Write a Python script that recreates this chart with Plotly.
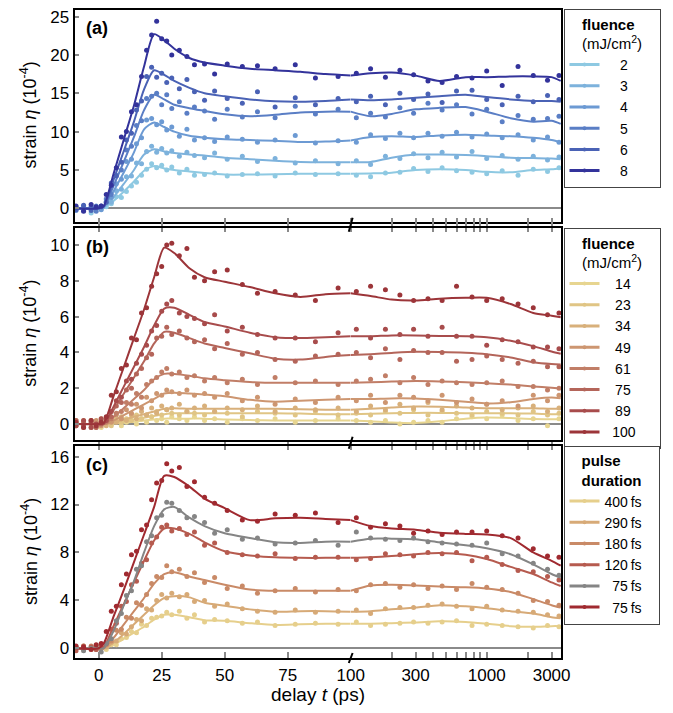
import plotly.graph_objects as go

FONT = "Liberation Sans, Arial, Helvetica, sans-serif"

# ---------------- data ----------------
# delay nodes of the smooth fit curves (ps)
T_FIT = [-10, 0, 2, 6, 10, 14, 18, 22, 26, 30, 36, 42, 50, 60, 70, 80, 90, 100,
         140, 200, 300, 450, 700, 1000, 1500, 2200, 3000, 3500]
# delays of the measured points (ps)
T_PTS = [-9, -6, -3, -1, 1, 3, 5, 7, 9, 11, 13, 15, 17, 19, 21, 23, 25, 27, 29, 32,
         35, 38, 42, 46, 51, 57, 63, 70, 78, 86, 95,
         110, 140, 180, 230, 290, 370, 470, 600, 780, 1000, 1300, 1700, 2200, 2800, 3400]

# ---- panel (a): fluence (mJ/cm^2) ----
a_labels = ["2", "3", "4", "5", "6", "8"]
a_colors = ["#8ec9e2", "#7db2dc", "#6c9ad3", "#5a7ec5", "#4a62b5", "#33339b"]
a_fit = [
    [0, 0, 0.1, 1.0, 2.2, 3.5, 4.9, 5.5, 5.2, 5.0, 4.8, 4.6, 4.4, 4.4, 4.45, 4.5, 4.5, 4.5,
     4.55, 4.65, 5.0, 5.1, 5.0, 4.75, 4.7, 5.0, 5.1, 5.2],
    [0, 0, 0.1, 1.5, 3.2, 5.0, 7.0, 7.7, 7.4, 7.2, 7.0, 6.9, 6.6, 6.4, 6.2, 6.05, 6.0, 6.0,
     6.05, 6.6, 7.0, 7.0, 6.95, 6.8, 6.6, 6.55, 6.5, 6.4],
    [0, 0, 0.2, 2.3, 4.7, 7.3, 10.3, 11.2, 10.6, 10.0, 9.45, 9.2, 9.0, 8.9, 8.8, 8.65, 8.7, 8.85,
     9.3, 9.4, 9.3, 9.5, 9.6, 9.5, 9.4, 9.2, 8.9, 8.6],
    [0, 0, 0.2, 3.0, 6.1, 9.3, 12.8, 14.8, 14.2, 13.5, 13.05, 12.7, 12.25, 12.0, 12.2, 12.5, 12.6, 12.6,
     12.0, 12.3, 12.9, 13.1, 13.2, 12.6, 11.75, 11.3, 11.4, 11.0],
    [0, 0, 0.2, 3.8, 7.5, 11.3, 15.5, 18.0, 17.4, 16.6, 15.7, 15.0, 14.6, 14.2, 13.95, 13.9, 14.0, 14.2,
     14.1, 14.2, 14.4, 14.6, 14.8, 14.5, 14.2, 14.0, 14.0, 13.9],
    [0, 0, 0.3, 4.6, 9.0, 13.4, 18.5, 22.7, 21.9, 20.8, 19.6, 19.0, 18.6, 18.2, 18.0, 17.8, 17.5, 17.3,
     17.6, 17.7, 17.3, 16.6, 17.1, 17.1, 17.2, 17.2, 17.1, 16.6],
]
a_pts = [
    [-0.2, 0.3, -0.6, 0.2, -0.1, 0.2, 0.6, 1.5, 1.4, 2.2, 2.9, 3.4, 4.3, 5.1, 5.8, 5.3, 5.6, 5.0, 5.4, 4.6,
     5.1, 4.3, 4.4, 4.6, 4.2, 4.4, 4.5, 4.2, 4.6, 4.4, 4.5,
     4.3, 4.1, 4.6, 4.7, 5.2, 4.8, 5.3, 4.9, 4.7, 4.5, 4.9, 4.3, 5.1, 4.8, 5.3],
    [0.2, -0.2, 0.1, 0.0, 0.1, 0.7, 0.8, 2.3, 2.5, 4.1, 4.2, 5.9, 5.8, 7.4, 8.1, 7.3, 7.8, 7.2, 7.5, 6.8,
     7.3, 6.9, 6.6, 7.2, 6.4, 6.8, 6.1, 6.5, 5.9, 6.2, 5.8,
     6.2, 5.7, 6.8, 6.5, 7.1, 6.6, 7.3, 6.7, 7.4, 6.5, 6.9, 6.4, 6.8, 6.3, 6.7],
    [-0.3, 0.2, 0.0, 0.3, -0.2, 0.9, 1.4, 3.2, 3.8, 6.1, 6.4, 8.4, 9.2, 11.5, 11.7, 10.9, 11.3, 10.2, 10.6, 9.4,
     10.3, 8.9, 9.2, 8.7, 9.3, 9.0, 8.6, 8.9, 9.5, 8.5, 8.8,
     8.6, 9.6, 9.1, 9.8, 9.2, 9.8, 9.4, 9.9, 9.3, 9.7, 9.2, 9.6, 8.9, 9.3, 8.6],
    [0.1, -0.3, 0.2, -0.4, 0.3, 1.2, 1.8, 4.3, 5.0, 7.6, 8.1, 10.8, 11.4, 14.3, 14.6, 15.0, 13.5, 14.8, 13.0, 13.9,
     12.4, 13.2, 12.7, 11.6, 12.9, 11.9, 12.6, 11.8, 13.3, 12.3, 12.9,
     11.8, 12.4, 11.9, 13.1, 12.4, 13.7, 12.8, 13.5, 12.3, 12.9, 11.3, 12.1, 11.6, 11.7, 12.0],
    [-0.2, 0.4, -0.3, 0.1, 0.2, 0.8, 3.3, 4.2, 6.0, 8.9, 9.8, 12.8, 14.0, 17.2, 18.4, 17.1, 17.6, 16.4, 17.0, 15.6,
     16.8, 15.2, 14.1, 15.3, 14.3, 13.7, 15.2, 13.2, 14.4, 13.5, 14.3,
     13.9, 14.6, 13.5, 15.0, 14.2, 14.9, 13.8, 15.3, 15.4, 14.2, 13.5, 14.6, 13.9, 14.7, 14.2],
    [0.3, -0.4, 0.5, 0.2, 0.3, 1.8, 3.0, 5.3, 9.3, 10.0, 12.6, 13.5, 17.2, 20.6, 22.6, 24.4, 22.1, 21.8, 20.0, 20.6,
     19.8, 18.7, 18.8, 17.5, 18.8, 18.5, 18.6, 18.2, 18.7, 17.0, 17.2,
     17.6, 18.2, 17.1, 18.0, 17.4, 16.6, 16.4, 17.2, 17.0, 17.9, 16.0, 18.5, 17.3, 16.7, 17.3],
]

# ---- panel (b): fluence (mJ/cm^2) ----
b_labels = ["14", "23", "34", "49", "61", "75", "89", "100"]
b_colors = ["#e7d590", "#e0c585", "#d8b07b", "#cd9671", "#c17e67", "#b4655a", "#a84c4c", "#9c3539"]
b_fit = [
    [0, 0, 0, 0.03, 0.08, 0.12, 0.2, 0.25, 0.3, 0.3, 0.3, 0.3, 0.25, 0.22, 0.2, 0.2, 0.2, 0.2,
     0.15, 0.08, 0.05, 0.15, 0.3, 0.36, 0.33, 0.28, 0.27, 0.27],
    [0, 0, 0, 0.05, 0.15, 0.25, 0.35, 0.45, 0.55, 0.6, 0.6, 0.6, 0.6, 0.6, 0.6, 0.58, 0.55, 0.55,
     0.57, 0.6, 0.62, 0.62, 0.6, 0.6, 0.6, 0.58, 0.55, 0.55],
    [0, 0, 0, 0.1, 0.25, 0.4, 0.55, 0.7, 0.85, 0.88, 0.85, 0.85, 0.85, 0.85, 0.85, 0.82, 0.8, 0.8,
     0.85, 0.92, 0.98, 0.97, 0.92, 0.88, 0.88, 0.88, 0.85, 0.85],
    [0, 0, 0, 0.2, 0.5, 0.8, 1.1, 1.4, 1.7, 1.75, 1.7, 1.65, 1.55, 1.35, 1.25, 1.3, 1.35, 1.4,
     1.4, 1.43, 1.42, 1.35, 1.25, 1.15, 1.22, 1.4, 1.48, 1.44],
    [0, 0, 0, 0.4, 0.9, 1.4, 1.9, 2.5, 2.8, 2.8, 2.7, 2.55, 2.45, 2.35, 2.3, 2.3, 2.3, 2.3,
     2.33, 2.37, 2.4, 2.38, 2.33, 2.27, 2.2, 2.1, 2.03, 1.99],
    [0, 0, 0, 0.8, 1.7, 2.6, 3.5, 4.5, 5.15, 5.1, 4.8, 4.5, 4.25, 3.95, 3.65, 3.6, 3.75, 3.85,
     3.9, 3.97, 4.03, 4.02, 3.98, 3.9, 3.72, 3.45, 3.35, 3.33],
    [0, 0, 0, 1.0, 2.1, 3.2, 4.3, 5.5, 6.45, 6.5, 6.1, 5.7, 5.45, 5.1, 4.85, 4.8, 4.85, 4.9,
     4.9, 4.95, 4.95, 4.92, 4.9, 4.85, 4.65, 4.35, 4.05, 3.92],
    [0, 0, 0.05, 1.6, 3.2, 4.8, 6.4, 8.2, 9.85, 9.55, 8.7, 8.2, 7.95, 7.65, 7.3, 7.1, 7.25, 7.3,
     7.15, 6.95, 6.9, 7.0, 7.05, 7.05, 6.7, 6.2, 6.05, 5.97],
]
b_pts = [
    [0.1, -0.1, 0.2, 0.0, -0.2, 0.1, 0.0, 0.2, -0.1, 0.1, 0.2, 0.0, 0.3, 0.1, 0.4, 0.2, 0.3, 0.1, 0.4, 0.3,
     0.2, 0.4, 0.2, 0.3, 0.1, 0.3, 0.2, 0.3, 0.1, 0.2, 0.3,
     0.2, 0.1, 0.2, 0.0, 0.1, 0.2, 0.1, 0.3, 0.4, 0.3, 0.5, 0.2, 0.3, -0.1, 0.3],
    [-0.1, 0.2, 0.0, -0.2, 0.1, 0.2, -0.1, 0.3, 0.1, 0.3, 0.2, 0.5, 0.3, 0.5, 0.4, 0.7, 0.5, 0.8, 0.6, 0.5,
     0.7, 0.6, 0.5, 0.7, 0.6, 0.4, 0.7, 0.6, 0.5, 0.7, 0.5,
     0.6, 0.5, 0.7, 0.6, 0.8, 0.5, 0.7, 0.6, 0.5, 0.7, 0.6, 0.5, 0.7, 0.5, 0.6],
    [0.2, 0.0, -0.2, 0.1, 0.3, -0.1, 0.2, 0.1, 0.4, 0.2, 0.5, 0.3, 0.7, 0.5, 0.9, 0.6, 1.0, 0.8, 0.9, 1.1,
     0.7, 0.9, 1.0, 0.7, 0.9, 0.8, 1.0, 0.7, 0.9, 0.8, 0.9,
     0.7, 1.0, 0.8, 1.1, 0.9, 1.2, 0.8, 1.0, 0.9, 1.1, 0.8, 0.9, 1.0, 0.7, 0.9],
    [0.1, -0.2, 0.0, 0.2, -0.1, 0.2, 0.1, 0.5, 0.3, 0.8, 0.6, 1.1, 0.9, 1.5, 1.3, 1.7, 1.6, 1.9, 1.8, 1.7,
     1.9, 1.6, 1.7, 1.5, 1.7, 1.3, 1.5, 1.1, 1.4, 1.2, 1.5,
     1.3, 1.6, 1.2, 1.6, 1.5, 1.3, 1.6, 1.2, 1.4, 1.1, 1.3, 1.0, 1.6, 1.3, 1.6],
    [-0.1, 0.1, 0.2, -0.1, 0.1, 0.1, 0.3, 0.6, 0.7, 1.2, 1.1, 1.7, 1.5, 2.2, 2.4, 2.6, 2.9, 3.1, 2.8, 2.9,
     2.6, 2.7, 2.4, 2.6, 2.3, 2.5, 2.2, 2.6, 2.3, 2.4, 2.2,
     2.4, 2.5, 2.7, 2.3, 2.6, 2.2, 2.4, 2.3, 2.2, 2.3, 2.4, 2.1, 2.1, 1.9, 2.0],
    [0.2, -0.1, 0.1, -0.2, 0.0, 0.3, 0.4, 1.0, 1.2, 1.9, 2.0, 2.8, 3.1, 3.7, 3.9, 4.8, 4.9, 5.4, 5.0, 5.2,
     4.8, 4.6, 4.7, 4.2, 4.5, 3.9, 4.0, 3.6, 3.5, 3.8, 3.9,
     4.0, 3.7, 4.2, 3.6, 4.1, 4.0, 4.0, 3.5, 3.6, 3.8, 3.6, 3.4, 3.5, 3.2, 3.2],
    [-0.1, 0.2, -0.2, 0.0, 0.3, 0.2, 0.7, 1.3, 1.5, 2.4, 2.5, 3.4, 3.9, 4.4, 5.2, 5.5, 6.3, 6.7, 6.9, 6.2,
     6.0, 5.9, 5.6, 6.1, 5.2, 5.4, 5.0, 4.8, 4.8, 4.6, 5.1,
     5.3, 4.8, 5.3, 5.0, 5.3, 4.9, 5.4, 4.9, 4.9, 4.4, 4.7, 4.6, 4.3, 4.3, 4.2],
    [0.1, -0.2, 0.2, -0.1, 0.1, 0.4, 1.6, 1.8, 3.1, 3.3, 4.8, 4.7, 6.2, 6.5, 7.7, 8.4, 8.8, 10.0, 10.1, 9.4,
     9.8, 8.2, 8.0, 8.5, 8.6, 7.8, 7.3, 7.4, 7.2, 6.9, 7.6,
     7.4, 7.7, 7.5, 7.2, 6.9, 7.0, 6.9, 7.7, 7.1, 6.9, 7.0, 6.7, 6.5, 6.1, 6.2],
]

# ---- panel (c): pulse duration ----
c_labels = ["400\u2009fs", "290\u2009fs", "180\u2009fs", "120\u2009fs", "\u200775\u2009fs", "\u200775\u2009fs"]
c_colors = ["#e6cf8c", "#d7aa77", "#c98a67", "#b65b4f", "#858585", "#a02a30"]
c_fit = [
    [0, 0, 0, 0.3, 0.8, 1.3, 1.8, 2.4, 2.8, 2.8, 2.6, 2.35, 2.3, 2.1, 1.95, 2.0, 2.05, 2.05,
     2.05, 2.1, 2.15, 2.25, 2.2, 2.05, 1.85, 1.8, 1.85, 1.85],
    [0, 0, 0, 0.5, 1.2, 2.0, 2.8, 3.6, 4.2, 4.35, 4.25, 3.8, 3.55, 3.25, 3.05, 3.1, 3.1, 3.05,
     3.1, 3.25, 3.4, 3.6, 3.5, 3.35, 3.1, 2.9, 2.6, 2.5],
    [0, 0, 0, 0.9, 2.0, 3.1, 4.2, 5.4, 6.2, 6.35, 6.0, 5.7, 5.3, 4.9, 4.8, 4.8, 4.8, 4.8,
     5.25, 5.3, 5.25, 5.15, 5.1, 5.0, 4.7, 4.1, 3.6, 3.4],
    [0, 0, 0.1, 1.9, 3.7, 5.5, 7.3, 9.0, 10.0, 10.0, 9.55, 8.85, 8.1, 7.75, 7.6, 7.55, 7.55, 7.55,
     7.6, 7.7, 7.85, 7.95, 7.8, 7.45, 6.8, 6.2, 5.5, 5.2],
    [0, 0, 0, 1.5, 3.6, 5.6, 8.0, 10.2, 11.6, 11.8, 10.9, 10.2, 9.6, 9.2, 8.85, 8.8, 8.9, 8.9,
     9.15, 9.15, 9.1, 8.85, 8.6, 8.35, 7.85, 7.0, 6.2, 5.9],
    [0, 0, 0.4, 2.7, 4.9, 7.2, 9.5, 11.8, 14.4, 14.3, 13.5, 12.5, 11.7, 10.7, 10.85, 10.9, 10.8, 10.7,
     10.2, 10.0, 9.9, 9.65, 9.55, 9.5, 9.2, 8.0, 7.3, 6.9],
]
c_pts = [
    [0.0, 0.2, -0.1, 0.1, 0.0, -0.1, 0.3, 0.3, 0.8, 0.9, 1.4, 1.3, 2.0, 1.9, 2.5, 2.6, 2.7, 3.0, 2.8, 3.1,
     2.5, 2.8, 2.2, 2.4, 2.3, 2.1, 2.2, 1.9, 2.0, 2.1, 2.0,
     2.2, 1.9, 2.0, 2.1, 2.2, 2.1, 2.2, 2.3, 1.9, 2.0, 1.9, 1.8, 1.7, 1.9, 1.8],
    [0.1, -0.1, 0.0, 0.2, 0.0, 0.1, 0.5, 0.6, 1.3, 1.2, 1.8, 2.4, 2.3, 3.3, 3.2, 4.0, 4.5, 4.2, 4.6, 4.3,
     4.5, 3.9, 4.0, 3.5, 3.7, 3.3, 3.1, 3.0, 3.2, 3.0, 3.1,
     3.2, 2.9, 3.3, 3.4, 3.4, 3.6, 3.7, 3.5, 3.3, 3.5, 3.2, 3.1, 3.0, 2.8, 2.7],
    [0.1, 0.0, 0.2, -0.1, 0.0, 0.3, 0.6, 1.5, 1.6, 2.6, 2.5, 3.8, 3.6, 4.5, 5.4, 6.0, 5.9, 6.9, 6.4, 6.6,
     6.0, 6.3, 5.5, 5.9, 5.0, 5.2, 4.6, 4.8, 5.0, 4.7, 4.9,
     4.8, 5.3, 5.4, 5.1, 5.3, 5.0, 5.2, 4.9, 5.4, 5.1, 4.9, 4.6, 4.0, 3.9, 3.6],
    [-0.2, 0.2, 0.1, -0.1, 0.3, 0.4, 1.6, 2.1, 3.5, 3.9, 5.3, 5.6, 7.1, 7.4, 8.8, 9.3, 10.1, 10.3, 9.8, 10.0,
     9.5, 9.7, 8.6, 8.8, 8.0, 7.8, 7.7, 7.9, 7.5, 7.6, 7.6,
     7.4, 7.5, 7.9, 7.8, 7.7, 8.0, 7.9, 8.0, 7.3, 7.6, 7.0, 6.5, 6.4, 6.0, 5.7],
    [0.1, -0.2, 0.0, 0.2, -0.3, 0.4, 0.8, 2.3, 2.9, 4.4, 4.8, 6.6, 6.9, 8.9, 9.4, 10.9, 11.1, 12.2, 12.1, 11.5,
     10.9, 11.0, 10.5, 9.6, 9.9, 9.1, 9.2, 8.7, 8.8, 9.0, 8.6,
     9.7, 9.2, 9.1, 9.0, 9.2, 8.9, 8.8, 8.7, 8.6, 8.8, 7.9, 7.7, 7.1, 6.6, 6.1],
    [0.2, 0.1, -0.1, 0.3, 0.4, 1.4, 3.1, 3.5, 5.3, 6.2, 7.8, 8.1, 9.9, 10.3, 12.4, 13.8, 14.0, 15.4, 14.8, 15.1,
     13.5, 13.9, 12.6, 12.1, 11.5, 10.7, 10.6, 11.2, 11.1, 11.3, 10.5,
     10.9, 10.1, 10.4, 10.2, 9.6, 9.8, 9.5, 9.7, 9.7, 9.8, 9.4, 9.2, 8.3, 7.7, 7.6],
]

# axis ticks
Y_TICKS = [[0, 5, 10, 15, 20, 25], [0, 2, 4, 6, 8, 10], [0, 4, 8, 12, 16]]
LIN_TICKS = [0, 25, 50, 75, 100]
LOG_TICKS = [300, 1000, 3000]
LOG_MINOR = [200, 400, 500, 600, 700, 800, 900, 2000]

# ---------------- layout geometry (page pixels -> paper) ----------------
# the page body has an 8 px default margin, so the figure is offset by 8 px
OFF = 8
W, H = 657, 697


def px(x):
    return (x - OFF) / W


def py(y):
    return 1 - (y - OFF) / H


X_L, X_M, X_R = px(74.5), px(350.7), px(561.3)
# panel domains in page pixels (top, bottom) and value scale (zero pixel, px per unit)
PANEL_PX = [(9.5, 221.7, 208.3, 7.67), (227.7, 440.0, 424.0, 17.9), (445.7, 658.3, 648.3, 11.98)]
Y_DOM = [[py(b), py(t)] for (t, b, z, s) in PANEL_PX]
Y_RANGES = [[(z - b) / s, (z - t) / s] for (t, b, z, s) in PANEL_PX]

fig = go.Figure()

panels = [
    (a_labels, a_colors, a_fit, a_pts),
    (b_labels, b_colors, b_fit, b_pts),
    (c_labels, c_colors, c_fit, c_pts),
]
legend_ids = ["legend", "legend2", "legend3"]

FS, PS, TS = "\u2007", "\u2008", "\u2009"


def pad_center(s):
    n = len(s)
    if n == 1:
        return FS + FS + s + FS + FS + FS + TS
    if n == 2:
        return FS + TS + s + FS + FS + FS
    return PS + PS + s + FS + FS + TS


def ax_name(i):
    return "x" if i == 1 else "x%d" % i


def ay_name(i):
    return "y" if i == 1 else "y%d" % i


for k, (labels, colors, fits, pts) in enumerate(panels):
    xl, xg = ax_name(2 * k + 1), ax_name(2 * k + 2)
    yl, yg = ay_name(2 * k + 1), ay_name(2 * k + 2)
    for lab, col, fy, pv in zip(labels, colors, fits, pts):
        # split into linear (t<=100) and logarithmic (t>=100) parts
        fl = [(t, v) for t, v in zip(T_FIT, fy) if t <= 100]
        fg = [(t, v) for t, v in zip(T_FIT, fy) if t >= 100]
        pl = [(t, v) for t, v in zip(T_PTS, pv) if t <= 100]
        pg = [(t, v) for t, v in zip(T_PTS, pv) if t >= 100]
        for (pp, xa, ya) in ((pl, xl, yl), (pg, xg, yg)):
            fig.add_trace(go.Scatter(
                x=[p[0] for p in pp], y=[p[1] for p in pp], mode="markers",
                marker=dict(color=col, size=5), xaxis=xa, yaxis=ya,
                showlegend=False, hoverinfo="skip"))
        for (ff, xa, ya) in ((fl, xl, yl), (fg, xg, yg)):
            fig.add_trace(go.Scatter(
                x=[p[0] for p in ff], y=[p[1] for p in ff], mode="lines",
                line=dict(color=col, width=2, shape="spline", smoothing=0.7),
                xaxis=xa, yaxis=ya, showlegend=False, hoverinfo="skip"))
    # legend entries
    for lab, col in zip(labels, colors):
        name = (lab + FS + PS) if k == 2 else pad_center(lab)
        fig.add_trace(go.Scatter(
            x=[None], y=[None], mode="lines+markers", name=name,
            line=dict(color=col, width=3), marker=dict(color=col, size=4),
            xaxis=xl, yaxis=yl, legend=legend_ids[k], showlegend=True))

layout = dict(
    width=W, height=H,
    margin=dict(l=0, r=0, t=0, b=0, autoexpand=False),
    paper_bgcolor="white", plot_bgcolor="white",
    font=dict(family=FONT, size=17, color="black"),
    showlegend=True,
)

tick_gray = "#8a8a8a"
for k in range(3):
    il, ig = 2 * k + 1, 2 * k + 2
    kx = lambda i: "xaxis" if i == 1 else "xaxis%d" % i
    ky = lambda i: "yaxis" if i == 1 else "yaxis%d" % i
    if k == 0:
        mirror, ticks = True, "outside"
    elif k == 1:
        mirror, ticks = "ticks", "outside"
    else:
        mirror, ticks = True, "inside"
    tlen = 8 if k < 2 else 6
    show_lab = (k == 2)
    common_x = dict(showline=True, linecolor="black", linewidth=2, mirror=mirror,
                    ticks=ticks, ticklen=tlen, tickcolor=tick_gray, tickwidth=1.5,
                    showgrid=False, zeroline=False, showticklabels=show_lab,
                    tickfont=dict(size=17), fixedrange=True, ticklabeloverflow="allow")
    layout[kx(il)] = dict(common_x, type="linear", range=[-9.6, 100], domain=[X_L, X_M],
                          anchor=ay_name(il), tickmode="array", tickvals=LIN_TICKS,
                          ticktext=[str(v) for v in LIN_TICKS])
    layout[kx(ig)] = dict(common_x, type="log", range=[2, 3.5485], domain=[X_M, X_R],
                          anchor=ay_name(ig), tickmode="array", tickvals=LOG_TICKS,
                          ticktext=[str(v) for v in LOG_TICKS],
                          minor=dict(tickmode="array", tickvals=LOG_MINOR, ticks=ticks,
                                     ticklen=tlen, tickcolor=tick_gray, tickwidth=1.5,
                                     showgrid=False))
    layout[ky(il)] = dict(range=Y_RANGES[k], domain=Y_DOM[k], anchor=ax_name(il),
                          showline=True, linecolor="black", linewidth=2,
                          ticks="inside", ticklen=4, tickcolor=tick_gray, tickwidth=1.5,
                          tickmode="array", tickvals=Y_TICKS[k], tickfont=dict(size=17),
                          showgrid=False, zeroline=True, zerolinecolor="#8a8a8a",
                          zerolinewidth=2, fixedrange=True, ticklabeloverflow="allow")
    layout[ky(ig)] = dict(range=Y_RANGES[k], domain=Y_DOM[k], anchor=ax_name(ig), side="right",
                          showline=True, linecolor="black", linewidth=2, ticks="",
                          showticklabels=False, showgrid=False, zeroline=True,
                          zerolinecolor="#8a8a8a", zerolinewidth=2, fixedrange=True)

legend_titles = ["<b>fluence</b><br>(mJ/cm<sup>2</sup>)",
                 "<b>fluence</b><br>(mJ/cm<sup>2</sup>)",
                 "<b>pulse</b><br><b>duration</b>"]
legend_tops = [9.0, 228.0, 445.5]
for k in range(3):
    layout[legend_ids[k]] = dict(
        x=px(563.5), y=py(legend_tops[k]), xanchor="left", yanchor="top",
        bgcolor="white", bordercolor="#444444", borderwidth=1,
        font=dict(family=FONT, size=14, color="black"),
        title=dict(text=legend_titles[k], side="top center", font=dict(size=15)),
        tracegroupgap=0, itemwidth=30, traceorder="normal",
        itemclick=False, itemdoubleclick=False)

annotations = []
for lab, yc in (("(a)", 28), ("(b)", 247), ("(c)", 465)):
    annotations.append(dict(text="<b>%s</b>" % lab, x=px(84), y=py(yc), xref="paper", yref="paper",
                            xanchor="left", yanchor="middle", showarrow=False,
                            font=dict(size=18, family=FONT)))
for (t, b, z, s) in PANEL_PX:
    annotations.append(dict(text="strain <i>η</i> (10<sup>-4</sup>)", x=px(29), y=py((t + b) / 2),
                            xref="paper", yref="paper", xanchor="center", yanchor="middle",
                            textangle=-90, showarrow=False, font=dict(size=18, family=FONT)))
annotations.append(dict(text="delay <i>t</i> (ps)", x=px(318), y=py(694), xref="paper", yref="paper",
                        xanchor="center", yanchor="middle", showarrow=False,
                        font=dict(size=19, family=FONT)))
layout["annotations"] = annotations

# axis-break markers at t = 100 ps
shapes = []
for yc, h in ((224.7, 7), (442.8, 6), (658.0, 5)):
    shapes.append(dict(type="line", xref="paper", yref="paper",
                       x0=px(348.8), y0=py(yc + h), x1=px(352.6), y1=py(yc - h),
                       line=dict(color="black", width=2)))
layout["shapes"] = shapes

fig.update_layout(**layout)
fig.write_html("out.html")
